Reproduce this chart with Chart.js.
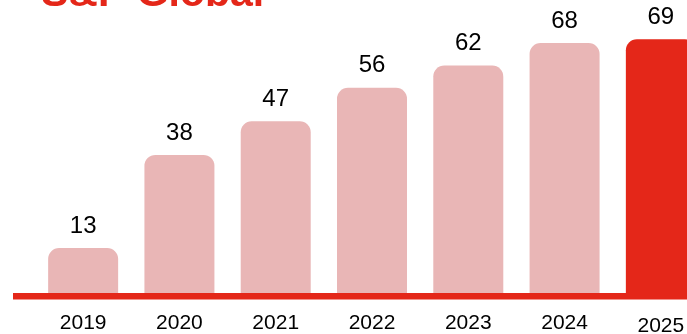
<!DOCTYPE html>
<html>
<head>
<meta charset="utf-8">
<script src="https://cdn.jsdelivr.net/npm/chart.js@4.4.1/dist/chart.umd.min.js"></script>
<style>
  html, body { margin: 0; padding: 0; overflow: hidden; background: #ffffff; }
  #wrap { position: absolute; left: 0; top: 0; width: 720px; height: 334px; }
</style>
</head>
<body>
<div id="wrap"><canvas id="chart" width="720" height="334"></canvas></div>
<script>
// Yearly figures
const years = ['2019', '2020', '2021', '2022', '2023', '2024', '2025'];
const values = [13, 38, 47, 56, 62, 68, 69];
const heading = 'S&P Global';

const RED = '#e42719';
const PINK = '#e9b6b6';
const FONT = '"Liberation Sans", Arial, Helvetica, sans-serif';
const lastIndex = years.length - 1;

// Brand heading, baseline rule and value labels
const decorations = {
  id: 'decorations',
  afterDatasetsDraw(chart) {
    const ctx = chart.ctx;
    const y0 = chart.scales.y.getPixelForValue(0);
    ctx.save();
    // heading
    ctx.fillStyle = RED;
    ctx.font = 'bold 41px ' + FONT;
    ctx.textAlign = 'left';
    ctx.textBaseline = 'alphabetic';
    ctx.fillText(heading, 41, 6);
    // baseline rule
    ctx.fillStyle = RED;
    ctx.fillRect(13, y0 - 3.5, chart.width, 6.5);
    // value labels
    ctx.fillStyle = '#000000';
    ctx.font = '24px ' + FONT;
    ctx.textAlign = 'center';
    ctx.textBaseline = 'middle';
    chart.getDatasetMeta(0).data.forEach((bar, i) => {
      ctx.fillText(String(values[i]), bar.x, bar.y - 22);
    });
    ctx.restore();
  }
};

new Chart(document.getElementById('chart'), {
  type: 'bar',
  data: {
    labels: years,
    datasets: [{
      data: values,
      backgroundColor: (c) => c.dataIndex === lastIndex ? RED : PINK,
      borderWidth: 0,
      borderRadius: { topLeft: 11, topRight: 11, bottomLeft: 0, bottomRight: 0 },
      borderSkipped: 'bottom',
      barPercentage: 0.727,
      categoryPercentage: 1
    }]
  },
  options: {
    responsive: false,
    animation: false,
    devicePixelRatio: 1,
    layout: { padding: { left: 35, right: 11, top: 17, bottom: 0 } },
    plugins: {
      legend: { display: false },
      tooltip: { enabled: false },
      title: { display: false }
    },
    scales: {
      x: {
        grid: { display: false, drawTicks: false },
        border: { display: false },
        ticks: {
          color: '#000000',
          padding: 14,
          maxRotation: 0,
          autoSkip: false,
          font: (c) => ({
            family: FONT,
            size: 21,
            lineHeight: c.index === lastIndex ? 1.5 : 1.2
          })
        },
        afterFit(scale) { scale.height = 37.5; }
      },
      y: {
        display: false,
        min: 0,
        max: 75
      }
    }
  },
  plugins: [decorations]
});
</script>
</body>
</html>
